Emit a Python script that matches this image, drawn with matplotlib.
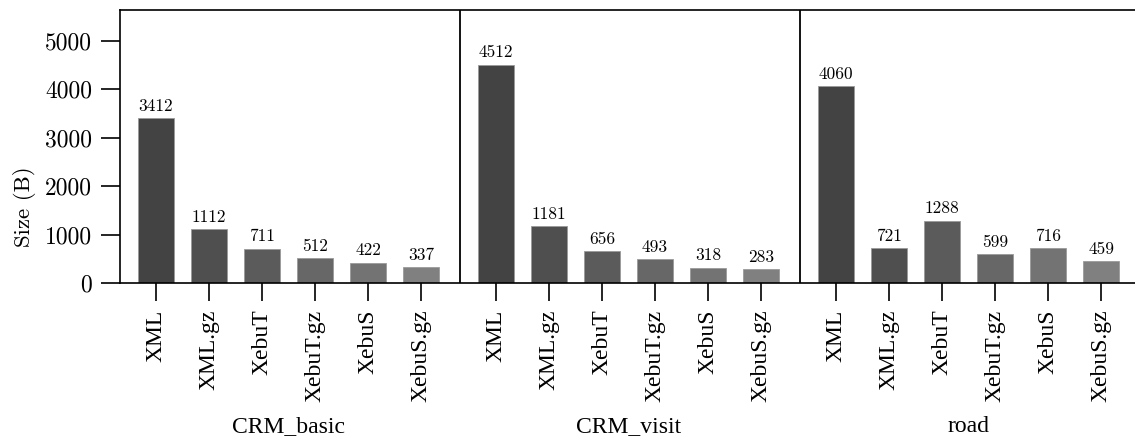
import matplotlib
matplotlib.use("Agg")
import matplotlib.pyplot as plt
import matplotlib.transforms as mtransforms

# ---------------- DATA ----------------
datasets = ["CRM_basic", "CRM_visit", "road"]
formats = ["XML", "XML.gz", "XebuT", "XebuT.gz", "XebuS", "XebuS.gz"]

crm_basic = [3412, 1112, 711, 512, 422, 337]
crm_visit = [4512, 1181, 656, 493, 318, 283]
road = [4060, 721, 1288, 599, 716, 459]

sizes = [crm_basic, crm_visit, road]

colors = ["#434343", "#4f4f4f", "#5b5b5b", "#676767", "#737373", "#808080"]

# ---------------- PLOT ----------------
plt.rcParams["axes.unicode_minus"] = False
fig = plt.figure(figsize=(11.35, 4.37), dpi=100)
ax = fig.add_axes([120 / 1135, 154 / 437, 1020 / 1135, 273 / 437])

group_step = 6.4
left_pad = 0.67

ticks = []
tick_labels = []
for g, vals in enumerate(sizes):
    xs = [g * group_step + i for i in range(len(formats))]
    ax.bar(xs, vals, width=0.68, color=colors, edgecolor="#9a9a9a",
           linewidth=0.6, zorder=2)
    for x, v in zip(xs, vals):
        ax.annotate(str(v), (x, v), xytext=(0, 3), textcoords="offset points",
                    ha="center", va="bottom", fontsize=12.5, family="cmr10")
    ticks += xs
    tick_labels += formats
    # separator between groups
    if g > 0:
        ax.axvline(g * group_step - left_pad, color="black", lw=1.3, zorder=3)

ax.set_xlim(-left_pad, 3 * group_step - left_pad)
ax.set_ylim(0, 5640)

ax.set_xticks(ticks)
ax.set_xticklabels(tick_labels, rotation=90, fontsize=17,
                   family="Liberation Serif")
ax.set_yticks([0, 1000, 2000, 3000, 4000, 5000])
ax.set_yticklabels(["0", "1000", "2000", "3000", "4000", "5000"],
                   fontsize=17, family="cmr10")
ax.tick_params(axis="x", length=13, width=1.2, pad=6)
ax.tick_params(axis="y", length=14, width=1.2, pad=6)

ax.set_ylabel("Size (B)", fontsize=16.5, family="cmr10")
ax.yaxis.set_label_coords(-0.082, 0.278)

for s in ax.spines.values():
    s.set_linewidth(1.2)

trans = mtransforms.blended_transform_factory(ax.transData, ax.transAxes)
for g, name in enumerate(datasets):
    ax.text(g * group_step + 2.5, -0.525, name, transform=trans,
            ha="center", va="center", fontsize=17, family="Liberation Serif")

plt.savefig("out.png", dpi=100)
